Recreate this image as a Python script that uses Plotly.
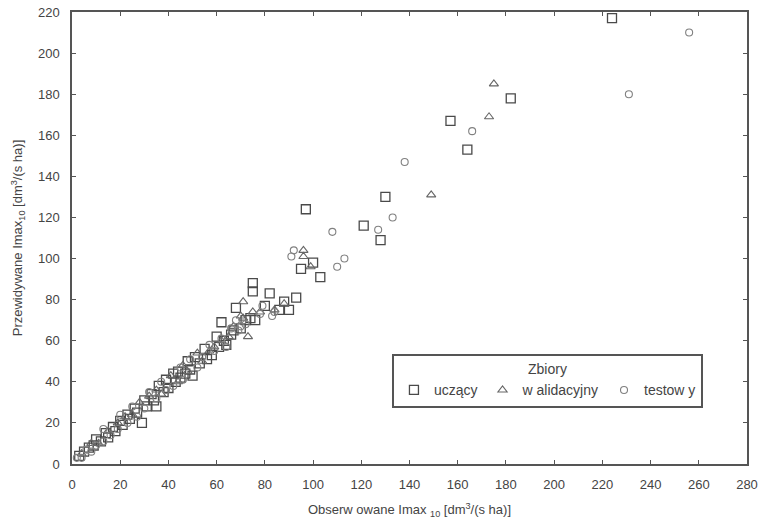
import plotly.graph_objects as go

# uczący (training) - squares
train_x = [3, 5, 7, 9, 10, 12, 14, 15, 17, 18, 20, 21, 23, 24, 26, 27, 29, 30, 31, 33, 34, 35, 36, 38, 39, 40,
           42, 43, 44, 45, 47, 48, 49, 50, 51, 53, 55, 56, 58, 60, 61, 63, 64, 62, 66, 68, 67, 70, 72, 74, 75, 75,
           76, 82, 80, 88, 90, 93, 86, 95, 100, 103, 97, 121, 128, 130, 157, 164, 182, 224]
train_y = [4, 6, 8, 9, 12, 11, 15, 13, 18, 16, 21, 19, 24, 22, 27, 25, 20, 31, 28, 34, 31, 28, 38, 35, 41, 37,
           44, 40, 45, 42, 44, 50, 46, 43, 52, 49, 56, 51, 53, 62, 57, 60, 58, 69, 63, 76, 65, 66, 70, 71, 88, 84,
           70, 83, 77, 79, 75, 81, 75, 95, 98, 91, 124, 116, 109, 130, 167, 153, 178, 217]

# walidacyjny (validation) - triangles
val_x = [4, 8, 11, 15, 19, 22, 25, 28, 32, 35, 37, 41, 44, 46, 48, 52, 54, 57, 59, 62, 65, 67, 70, 71, 71,
         73, 75, 78, 84, 88, 96, 96, 99, 149, 173, 175]
val_y = [5, 10, 10, 16, 20, 23, 24, 30, 33, 36, 34, 43, 40, 48, 45, 54, 50, 55, 57, 60, 62, 67, 72, 79, 71,
         62, 74, 74, 75, 78, 104, 101, 96, 131, 169, 185]

# testowy (test) - circles
test_x = [2, 4, 6, 8, 10, 13, 13, 16, 19, 20, 23, 25, 27, 30, 32, 35, 37, 39, 42, 45, 46, 49, 52, 54, 57, 59,
          62, 64, 66, 68, 69, 70, 72, 78, 79, 83, 84, 92, 91, 108, 110, 113, 127, 133, 138, 166, 231, 256]
test_y = [3, 3, 7, 6, 9, 17, 11, 14, 17, 24, 20, 28, 23, 27, 35, 32, 40, 36, 38, 47, 41, 51, 47, 52, 58, 55,
          61, 57, 66, 70, 65, 67, 68, 73, 77, 72, 74, 104, 101, 113, 96, 100, 114, 120, 147, 162, 180, 210]

series_names = ["uczący", "w alidacyjny", "testow y"]

font_family = "Liberation Sans, Arial, sans-serif"

fig = go.Figure()
fig.add_trace(go.Scatter(x=train_x, y=train_y, mode="markers", name=series_names[0],
                         marker=dict(symbol="square-open", size=9, color="#4a4a4a", line=dict(width=1.3))))
fig.add_trace(go.Scatter(x=val_x, y=val_y, mode="markers", name=series_names[1],
                         marker=dict(symbol="triangle-up-open", size=8, color="#666666", line=dict(width=1.1))))
fig.add_trace(go.Scatter(x=test_x, y=test_y, mode="markers", name=series_names[2],
                         marker=dict(symbol="circle-open", size=7, color="#808080", line=dict(width=1.1))))

axis_common = dict(
    showline=True, linecolor="#555555", linewidth=1.5, mirror="ticks",
    ticks="inside", ticklen=4, tickcolor="#555555", tickwidth=1,
    showgrid=False, zeroline=False, automargin=False,
    tickfont=dict(family=font_family, size=13, color="#444444"),
    ticklabelstandoff=8,
)

fig.update_layout(
    width=765, height=526,
    paper_bgcolor="white", plot_bgcolor="white",
    margin=dict(l=72, r=18, t=12, b=62),
    font=dict(family=font_family, color="#444444"),
    xaxis=dict(range=[0, 280], dtick=20,
               title=dict(text="Obserw owane Imax <sub>10</sub> [dm<sup>3</sup>/(s ha)]",
                          font=dict(size=13, color="#444444"), standoff=14),
               **axis_common),
    yaxis=dict(range=[0, 220], dtick=20,
               title=dict(text="Przewidywane Imax<sub>10</sub> [dm<sup>3</sup>/(s ha)]",
                          font=dict(size=13, color="#444444"), standoff=12),
               **axis_common),
    legend=dict(
        orientation="h", x=0.474, y=0.243, xanchor="left", yanchor="top",
        bordercolor="#555555", borderwidth=2, bgcolor="white",
        title=dict(text="Zbiory", side="top center", font=dict(size=14, color="#444444")),
        font=dict(size=14, color="#444444"),
        itemwidth=30, tracegroupgap=0,
    ),
    showlegend=True,
)

fig.write_html("out.html", config={"displayModeBar": False},
               post_script="document.body.style.margin='0';")
